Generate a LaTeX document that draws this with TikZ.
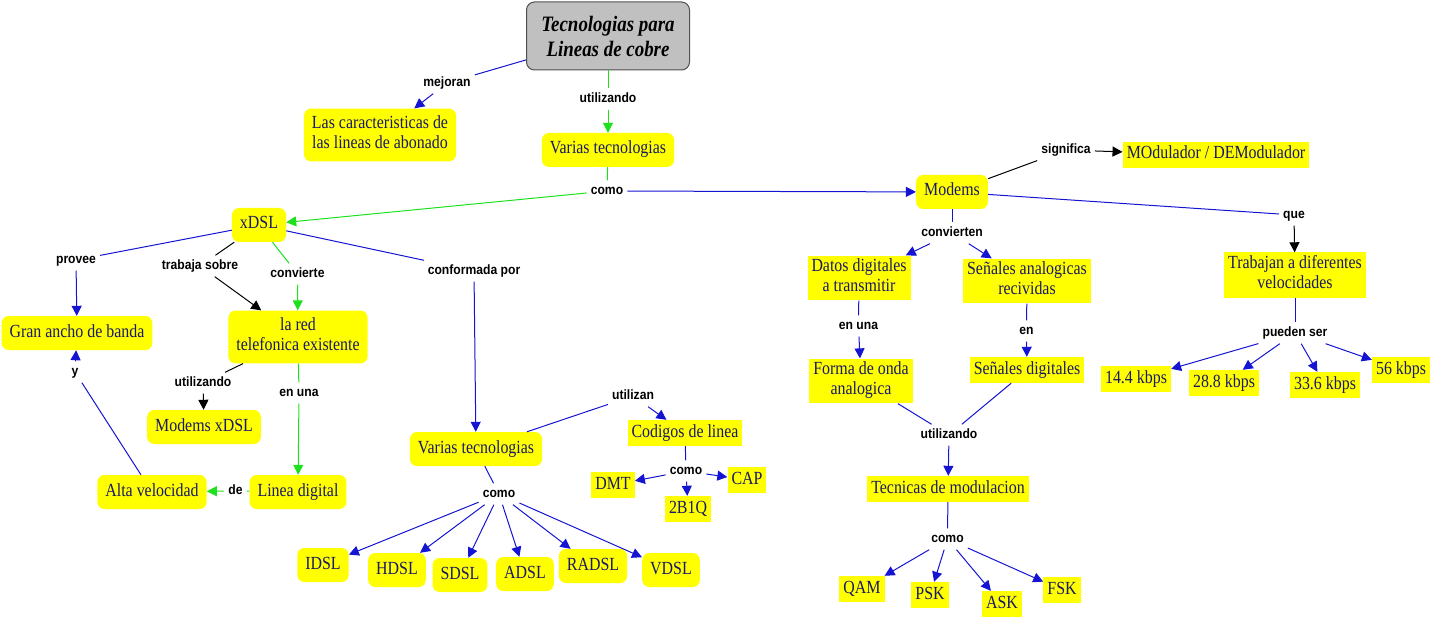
\documentclass[tikz,border=0pt]{standalone}
\usepackage{fontspec}
\setmainfont{Liberation Serif}
\newfontfamily\nodefont[FakeStretch=0.86]{Liberation Serif}
\newfontfamily\lblfont[FakeStretch=0.9]{Liberation Sans}
\usetikzlibrary{arrows.meta}
\definecolor{navy}{RGB}{25,25,100}
\definecolor{lblue}{RGB}{20,20,210}
\definecolor{lgreen}{RGB}{30,225,30}
\definecolor{ybox}{RGB}{255,255,0}
\definecolor{rootgray}{RGB}{192,192,192}
\tikzset{
  rbox/.style={fill=ybox, rounded corners=7pt, inner xsep=8pt, inner ysep=7pt, align=center,
    text=navy, font=\nodefont\fontsize{18.5}{20}\selectfont, execute at begin node=\strut, execute at end node=\strut},
  sbox/.style={fill=ybox, inner xsep=4pt, inner ysep=3pt, align=center,
    text=navy, font=\nodefont\fontsize{18.5}{20}\selectfont, execute at begin node=\strut, execute at end node=\strut},
  lbl/.style={inner sep=4pt, text height=10pt, text depth=3pt, font=\lblfont\bfseries\fontsize{13.5}{15}\selectfont},
  arr/.style={-{Triangle[length=10pt,width=10pt]}},
  bl/.style={draw=lblue, line width=1pt},
  gr/.style={draw=lgreen, line width=1pt},
  bk/.style={draw=black, line width=1pt},
}
\begin{document}
\begin{tikzpicture}[x=1pt,y=-1pt]
\useasboundingbox (0,0) rectangle (1432,620);
% concept nodes
\node[fill=rootgray, draw={rgb,255:red,80;green,80;blue,80}, line width=1pt, rounded corners=8pt,
  minimum width=163pt, minimum height=68pt, align=center,
  font=\nodefont\fontsize{22}{25}\selectfont\bfseries\itshape] (root) at (608,36) {Tecnologias para\\Lineas de cobre};
\node[rbox] (caract) at (380,135) {Las caracteristicas de\\las lineas de abonado};
\node[rbox] (varias1) at (608,150) {Varias tecnologias};
\node[rbox] (xdsl) at (259,225) {xDSL};
\node[rbox] (modems) at (952,192) {Modems};
\node[sbox] (modul) at (1216,155) {MOdulador / DEModulador};
\node[sbox] (trabajan) at (1295,275) {Trabajan a diferentes\\velocidades};
\node[sbox] (datos) at (859,278) {Datos digitales\\a transmitir};
\node[sbox] (senalesA) at (1027,281) {Señales analogicas\\recividas};
\node[sbox] (forma) at (861,381) {Forma de onda\\analogica};
\node[sbox] (senalesD) at (1027,370) {Señales digitales};
\node[sbox] (tecnicas) at (948,489) {Tecnicas de modulacion};
\node[sbox] (qam) at (862,589) {QAM};
\node[sbox] (psk) at (930,595) {PSK};
\node[sbox] (ask) at (1002,604) {ASK};
\node[sbox] (fsk) at (1062,590) {FSK};
\node[sbox] (k144) at (1136,379) {14.4 kbps};
\node[sbox] (k288) at (1224,383) {28.8 kbps};
\node[sbox] (k336) at (1325,385) {33.6 kbps};
\node[sbox] (k56) at (1401,370) {56 kbps};
\node[rbox] (gran) at (77,333) {Gran ancho de banda};
\node[rbox] (lared) at (298,337) {la red\\telefonica existente};
\node[rbox] (modxdsl) at (204,427) {Modems xDSL};
\node[rbox] (alta) at (152,492) {Alta velocidad};
\node[rbox] (linea) at (298,492) {Linea digital};
\node[rbox] (varias2) at (476,449) {Varias tecnologias};
\node[sbox] (codigos) at (685,433) {Codigos de linea};
\node[sbox] (dmt) at (613,485) {DMT};
\node[sbox] (cap) at (747,480) {CAP};
\node[sbox] (bq) at (688,509) {2B1Q};
\node[rbox] (idsl) at (323,565) {IDSL};
\node[rbox] (hdsl) at (397,570) {HDSL};
\node[rbox] (sdsl) at (460,575) {SDSL};
\node[rbox] (adsl) at (525,574) {ADSL};
\node[rbox] (radsl) at (593,566) {RADSL};
\node[rbox] (vdsl) at (671,570) {VDSL};
% labels
\node[lbl] (lmejoran) at (447,83) {mejoran};
\node[lbl] (lutil1) at (608,99) {utilizando};
\node[lbl] (lcomo1) at (607,191) {como};
\node[lbl] (lprovee) at (76,260) {provee};
\node[lbl] (ltrabaja) at (200,266) {trabaja sobre};
\node[lbl] (lconvierte) at (297.5,274) {convierte};
\node[lbl] (lconf) at (474,271) {conformada por};
\node[lbl] (lutil2) at (203,383) {utilizando};
\node[lbl] (lenuna1) at (299,393) {en una};
\node[lbl] (lde) at (235.5,491) {de};
\node[lbl] (ly) at (75,372) {y};
\node[lbl] (lutilizan) at (633,396) {utilizan};
\node[lbl] (lcomo2) at (686,471) {como};
\node[lbl] (lcomo3) at (499,494) {como};
\node[lbl] (lsignifica) at (1066,150) {significa};
\node[lbl] (lque) at (1294,215) {que};
\node[lbl] (lconvierten) at (952,233) {convierten};
\node[lbl] (lenuna2) at (858.5,326) {en una};
\node[lbl] (len) at (1026.5,331) {en};
\node[lbl] (lutil3) at (949,435) {utilizando};
\node[lbl] (lcomo4) at (947.5,539) {como};
\node[lbl] (lpueden) at (1295,333) {pueden ser};
% connectors
\draw[bl] (root) -- (lmejoran);
\draw[bl,arr] (lmejoran) -- (caract);
\draw[gr] (root) -- (lutil1);
\draw[gr,arr] (lutil1) -- (varias1);
\draw[gr] (varias1) -- (lcomo1);
\draw[gr,arr] (lcomo1) -- (xdsl);
\draw[bl,arr] (lcomo1) -- (modems);
\draw[bl] (xdsl) -- (lprovee);
\draw[bl,arr] (lprovee) -- (gran);
\draw[bk] (xdsl) -- (ltrabaja);
\draw[bk,arr] (ltrabaja) -- (lared);
\draw[gr] (xdsl) -- (lconvierte);
\draw[gr,arr] (lconvierte) -- (lared);
\draw[bl] (xdsl) -- (lconf);
\draw[bl,arr] (lconf) -- (varias2);
\draw[bk] (lared) -- (lutil2);
\draw[bk,arr] (lutil2) -- (modxdsl);
\draw[gr] (lared) -- (lenuna1);
\draw[gr,arr] (lenuna1) -- (linea);
\draw[gr] (linea) -- (lde);
\draw[gr,arr] (lde) -- (alta);
\draw[bl] (alta) -- (ly);
\draw[bl,arr] (ly) -- (gran);
\draw[bl] (varias2) -- (lutilizan);
\draw[bl,arr] (lutilizan) -- (codigos);
\draw[bl] (codigos) -- (lcomo2);
\draw[bl,arr] (lcomo2) -- (dmt);
\draw[bl,arr] (lcomo2) -- (cap);
\draw[bl,arr] (lcomo2) -- (bq);
\draw[bl] (varias2) -- (lcomo3);
\foreach \t in {idsl,hdsl,sdsl,adsl,radsl,vdsl} \draw[bl,arr] (lcomo3) -- (\t);
\draw[bk] (modems) -- (lsignifica);
\draw[bk,arr] (lsignifica) -- (modul);
\draw[bl] (modems) -- (lque);
\draw[bk,arr] (lque) -- (trabajan);
\draw[bl] (modems) -- (lconvierten);
\draw[bl,arr] (lconvierten) -- (datos);
\draw[bl,arr] (lconvierten) -- (senalesA);
\draw[bl] (datos) -- (lenuna2);
\draw[bl,arr] (lenuna2) -- (forma);
\draw[bl] (senalesA) -- (len);
\draw[bl,arr] (len) -- (senalesD);
\draw[bl] (forma) -- (lutil3);
\draw[bl] (senalesD) -- (lutil3);
\draw[bl,arr] (lutil3) -- (tecnicas);
\draw[bl] (tecnicas) -- (lcomo4);
\foreach \t in {qam,psk,ask,fsk} \draw[bl,arr] (lcomo4) -- (\t);
\draw[bl] (trabajan) -- (lpueden);
\foreach \t in {k144,k288,k336,k56} \draw[bl,arr] (lpueden) -- (\t);
\end{tikzpicture}
\end{document}
